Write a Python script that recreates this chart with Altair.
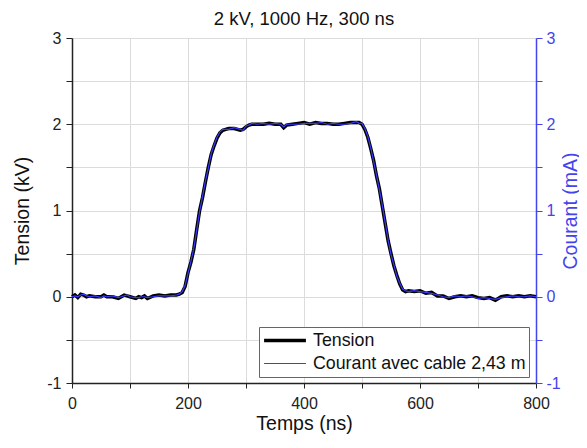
import altair as alt
import pandas as pd

FONT = "Liberation Sans"
BLUE = "#4444ee"

time_ns = [0, 5, 10, 15, 20, 25, 30, 40, 50, 55, 60, 70, 80, 85, 90, 95, 100, 110, 115, 120,
           125, 130, 140, 150, 160, 170, 180, 185, 190, 195, 200, 205, 210, 215, 220, 225, 230,
           235, 240, 245, 250, 255, 260, 265, 270, 280, 290, 295, 300, 305, 310, 320, 330, 340,
           350, 360, 365, 370, 380, 390, 400, 410, 420, 430, 440, 450, 460, 470, 480, 490, 495,
           500, 505, 510, 515, 520, 525, 530, 535, 540, 545, 550, 555, 560, 565, 570, 575, 580,
           590, 600, 610, 620, 630, 640, 650, 660, 670, 680, 690, 700, 710, 720, 730, 740, 750,
           760, 770, 780, 790, 800]

tension_kv = [0.0, 0.02, -0.01, 0.03, 0.02, 0.0, 0.01, 0.0, 0.0, 0.02, 0.0, 0.0, -0.02, 0.0, 0.02,
              0.01, 0.0, -0.02, 0.0, -0.01, 0.01, -0.02, 0.01, 0.02, 0.01, 0.02, 0.02, 0.03, 0.05,
              0.12, 0.28, 0.40, 0.55, 0.78, 1.00, 1.15, 1.33, 1.50, 1.65, 1.75, 1.84, 1.90, 1.93,
              1.94, 1.95, 1.95, 1.93, 1.94, 1.97, 1.99, 2.00, 2.00, 2.00, 2.01, 2.00, 2.00, 1.96,
              1.99, 2.00, 2.01, 2.02, 2.00, 2.02, 2.01, 2.01, 2.00, 2.00, 2.01, 2.02, 2.02, 2.02,
              2.00, 1.94, 1.85, 1.72, 1.58, 1.40, 1.25, 1.05, 0.85, 0.65, 0.50, 0.36, 0.25, 0.15,
              0.08, 0.06, 0.07, 0.06, 0.07, 0.04, 0.05, 0.01, 0.01, -0.02, 0.00, 0.01, 0.00, 0.01,
              -0.01, -0.02, -0.01, -0.04, 0.00, 0.01, 0.00, 0.01, 0.00, 0.01, 0.00]

courant_ma = [0.0, 0.01, 0.0, 0.02, 0.03, 0.01, 0.0, 0.01, -0.01, 0.01, 0.0, 0.01, -0.01, 0.0, 0.01,
              0.02, 0.0, -0.01, -0.01, 0.0, 0.0, -0.01, 0.0, 0.01, 0.01, 0.01, 0.02, 0.03, 0.06,
              0.13, 0.27, 0.41, 0.56, 0.77, 0.99, 1.16, 1.34, 1.49, 1.66, 1.76, 1.85, 1.91, 1.94,
              1.94, 1.94, 1.96, 1.94, 1.93, 1.98, 1.99, 2.01, 2.00, 2.01, 2.00, 2.01, 2.00, 1.97,
              2.00, 2.00, 2.00, 2.01, 2.01, 2.01, 2.02, 2.00, 2.01, 2.00, 2.00, 2.01, 2.03, 2.01,
              2.01, 1.95, 1.86, 1.73, 1.57, 1.41, 1.24, 1.06, 0.86, 0.66, 0.49, 0.37, 0.24, 0.16,
              0.09, 0.07, 0.06, 0.07, 0.06, 0.05, 0.04, 0.02, 0.00, -0.01, 0.01, 0.00, 0.01, 0.00,
              -0.02, -0.01, -0.02, -0.03, -0.01, 0.00, 0.01, 0.00, 0.00, 0.01, 0.00]

series_names = ["Tension", "Courant avec cable 2,43 m"]
series_colors = ["#000000", "#3a3aff"]
series_widths = [3.5, 1.2]
legend_widths = [3.5, 1.5]

x_ticks = [0, 100, 200, 300, 400, 500, 600, 700, 800]
y_ticks = [-1, -0.5, 0, 0.5, 1, 1.5, 2, 2.5, 3]

W, H = 464, 345

df = pd.concat([
    pd.DataFrame({"t": time_ns, "v": tension_kv, "series": series_names[0]}),
    pd.DataFrame({"t": time_ns, "v": courant_ma, "series": series_names[1]}),
], ignore_index=True)

int_label = "datum.value % 1 === 0 ? '' + datum.value : ''"

x_enc = alt.X("t:Q", scale=alt.Scale(domain=[0, 800], nice=False),
              axis=alt.Axis(title="Temps (ns)", values=x_ticks,
                            labelExpr="datum.value % 200 === 0 ? '' + datum.value : ''",
                            labelFontSize=16, titleFontSize=19.5, titleFontWeight="normal",
                            labelFont=FONT, titleFont=FONT, labelColor="#222", titleColor="#111",
                            domainColor="#222", domainWidth=1.5, tickColor="#222", tickSize=5,
                            labelPadding=7, titlePadding=3, grid=True, gridColor="#dcdcdc",
                            labelFlush=False, labelOverlap=False))

legend_width_expr = f"datum.value === '{series_names[0]}' ? {legend_widths[0]} : {legend_widths[1]}"

color_enc = alt.Color("series:N", scale=alt.Scale(domain=series_names, range=series_colors),
                      legend=alt.Legend(title=None, orient="none", legendX=187, legendY=289,
                                        symbolType="stroke", symbolSize=1750, clipHeight=21,
                                        symbolStrokeWidth=alt.ExprRef(legend_width_expr),
                                        labelFontSize=17.8, labelFont=FONT, labelColor="#111",
                                        labelLimit=400, strokeColor="#666", fillColor="white",
                                        padding=3, rowPadding=2, labelOffset=5))
width_enc = alt.StrokeWidth("series:O", scale=alt.Scale(domain=series_names, range=series_widths),
                            legend=None)

left = alt.Chart(df).transform_filter(alt.datum.series == series_names[0]).mark_line().encode(
    x=x_enc,
    y=alt.Y("v:Q", scale=alt.Scale(domain=[-1, 3], nice=False),
            axis=alt.Axis(title="Tension (kV)", values=y_ticks, labelExpr=int_label,
                          labelFontSize=16, titleFontSize=19.5, titleFontWeight="normal",
                          labelFont=FONT, titleFont=FONT, labelColor="#222", titleColor="#111",
                          domainColor="#222", domainWidth=1.5, tickColor="#222", tickSize=6,
                          labelPadding=5, titleX=-50, titleY=H / 2, titleAngle=270,
                          titleBaseline="middle", titleAlign="center",
                          grid=True, gridColor="#dcdcdc",
                          labelFlush=False, labelOverlap=False)),
    color=color_enc,
    strokeWidth=width_enc,
)

right = alt.Chart(df).transform_filter(alt.datum.series == series_names[1]).mark_line().encode(
    x=alt.X("t:Q", scale=alt.Scale(domain=[0, 800], nice=False)),
    y=alt.Y("v:Q", scale=alt.Scale(domain=[-1, 3], nice=False),
            axis=alt.Axis(title="Courant (mA)", orient="right", values=y_ticks,
                          labelExpr=int_label,
                          labelFontSize=16, titleFontSize=19.5, titleFontWeight="normal",
                          labelFont=FONT, titleFont=FONT, labelColor=BLUE, titleColor=BLUE,
                          domainColor=BLUE, domainWidth=1.5, tickColor=BLUE, tickSize=6,
                          labelPadding=4, titleX=34, titleY=H / 2, titleAngle=270,
                          titleBaseline="middle", titleAlign="center",
                          grid=False, labelFlush=False, labelOverlap=False)),
    color=color_enc,
    strokeWidth=width_enc,
)

chart = alt.layer(left, right).resolve_scale(y="independent").properties(
    width=W,
    height=H,
    title=alt.TitleParams("2 kV, 1000 Hz, 300 ns", fontSize=18.5, fontWeight="normal",
                          font=FONT, color="#111", offset=2),
    autosize=alt.AutoSizeParams(type="none"),
    padding={"left": 64, "top": 30, "right": 43, "bottom": 52},
).configure_view(stroke="#333", strokeWidth=1.2).configure(background="white")

chart.save("out.html", embed_options={"renderer": "svg", "actions": False})
